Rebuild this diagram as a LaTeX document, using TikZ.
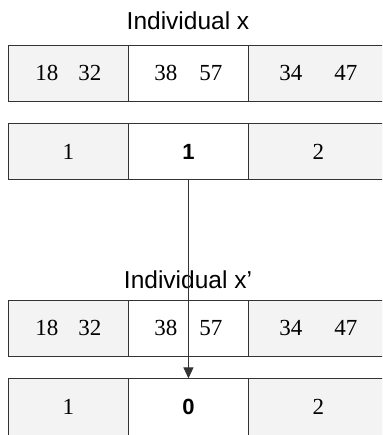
\documentclass[tikz,border=0pt]{standalone}
\usepackage{fontspec}
\setmainfont{Liberation Serif}
\setsansfont{Liberation Sans}
\usetikzlibrary{arrows.meta}
\definecolor{cellgray}{HTML}{F3F3F3}
\definecolor{edge}{HTML}{333333}
\tikzset{
  cell/.style={draw=edge, line width=0.9pt, minimum height=56pt, minimum width=120pt, inner sep=0pt, anchor=north west, font=\fontsize{23}{23}\selectfont},
  gcell/.style={cell, fill=cellgray},
  wcell/.style={cell, fill=white},
  rcell/.style={gcell, minimum width=140pt},
  title/.style={font=\sffamily\fontsize{24.5}{24.5}\selectfont, inner sep=0pt},
  bnum/.style={font=\sffamily\bfseries\fontsize{22}{22}\selectfont},
}
\begin{document}
\begin{tikzpicture}[x=1pt,y=-1pt]
\useasboundingbox (0,0) rectangle (382,435);
\clip (0,0) rectangle (382,435);
\node[title] (t1) at (188,21) {Individual x};
\node[gcell] (a1) at (8,45) {18\hspace{20pt}32\hspace{8pt}};
\node[wcell] (a2) at (128,45) {38\hspace{22pt}57\hspace{14pt}};
\node[rcell] (a3) at (248,45) {34\hspace{32pt}47\hspace{19pt}};
\node[gcell] (b1) at (8,123) {1};
\node[wcell, bnum] (b2) at (128,123) {1};
\node[rcell] (b3) at (248,123) {2\hspace{4pt}};
\node[title] (t2) at (188,280) {Individual x'};
\node[gcell] (c1) at (8,300) {18\hspace{20pt}32\hspace{8pt}};
\node[wcell] (c2) at (128,300) {38\hspace{22pt}57\hspace{14pt}};
\node[rcell] (c3) at (248,300) {34\hspace{32pt}47\hspace{19pt}};
\node[gcell, minimum height=57.5pt] (d1) at (8,378) {1};
\node[wcell, bnum, minimum height=57.5pt] (d2) at (128,378) {0};
\node[rcell, minimum height=57.5pt] (d3) at (248,378) {2\hspace{4pt}};
\draw[edge, line width=0.9pt, -{Triangle[length=11pt,width=10pt]}, shorten >=-0.4pt] (b2.south) -- (d2.north);
\end{tikzpicture}
\end{document}
